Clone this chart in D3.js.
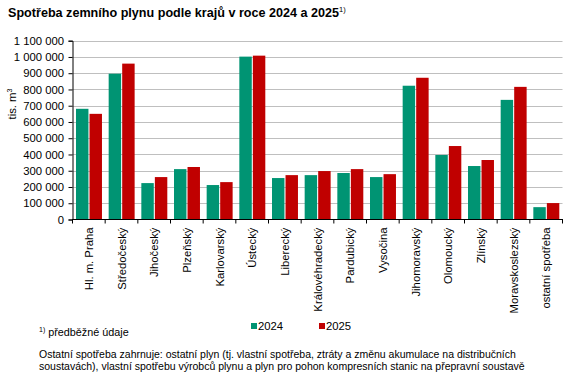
<!DOCTYPE html>
<html><head><meta charset="utf-8">
<script src="https://cdn.jsdelivr.net/npm/d3@7"></script>
<style>body{margin:0;background:#fff}svg{font-family:Arial,"Liberation Sans",sans-serif}</style>
</head><body><svg id="c" width="571" height="379"></svg>
<script>
const categories = ["Hl. m. Praha","Středočeský","Jihočeský","Plzeňský","Karlovarský","Ústecký","Liberecký","Královéhradecký","Pardubický","Vysočina","Jihomoravský","Olomoucký","Zlínský","Moravskoslezský","ostatní spotřeba"];
const values2024 = [681000,897000,224000,310000,212000,1002000,255000,273000,286000,261000,823000,397000,329000,736000,76000];
const values2025 = [650000,959000,261000,323000,230000,1008000,273000,298000,310000,279000,872000,452000,366000,816000,101000];
const seriesNames = ["2024","2025"];
const colors = ["#009473","#c00000"];
const yTicks = [0,100000,200000,300000,400000,500000,600000,700000,800000,900000,1000000,1100000];

const svg = d3.select("#c");
const x0 = 72.5, x1 = 562.5, yTop = 40.7, yBot = 219.5;
const x = d3.scaleBand().domain(categories).range([x0,x1]).paddingInner(0).paddingOuter(0);
const xs = d3.scaleBand().domain(seriesNames).range([3.5, x.bandwidth()-3.2]).paddingInner(0.08);
const y = d3.scaleLinear().domain([0,1100000]).range([yBot,yTop]);
const fmt = v => d3.format(",")(v).replace(/,/g," ");

// title
const t = svg.append("text").attr("x",8).attr("y",17).attr("font-size",12.6).attr("font-weight","bold").attr("fill","#000")
  .text("Spotřeba zemního plynu podle krajů v roce 2024 a 2025");
t.append("tspan").attr("font-size",7.5).attr("font-weight","normal").attr("dy",-5).text("1)");

// gridlines
svg.append("g").selectAll("line").data(yTicks.filter(d=>d>0)).join("line")
  .attr("x1",x0).attr("x2",x1).attr("y1",d=>Math.round(y(d))+0.5).attr("y2",d=>Math.round(y(d))+0.5)
  .attr("stroke","#bfbfbf").attr("stroke-width",1);

// bars
const data = categories.map((c,i)=>({c, v:[values2024[i],values2025[i]]}));
const g = svg.append("g");
data.forEach(d=>{
  seriesNames.forEach((s,j)=>{
    g.append("rect").attr("x",x(d.c)+xs(s)).attr("width",xs.bandwidth())
     .attr("y",y(d.v[j])).attr("height",yBot-y(d.v[j])).attr("fill",colors[j]);
  });
});

// y axis
const ya = svg.append("g").attr("transform",`translate(${x0},0)`)
  .call(d3.axisLeft(y).tickValues(yTicks).tickFormat(fmt).tickSize(4).tickPadding(4.5));
ya.select(".domain").attr("stroke","#000");
ya.selectAll(".tick line").attr("stroke","#000");
ya.selectAll("text").attr("font-size",11.3).attr("fill","#000").attr("font-family","Arial, 'Liberation Sans', sans-serif");

// x axis
const xa = svg.append("g").attr("transform",`translate(0,${yBot})`);
xa.append("line").attr("x1",x0-0.5).attr("x2",x1+0.5).attr("y1",0).attr("y2",0).attr("stroke","#000");
const bounds = categories.map(c=>x(c)).concat([x1]);
xa.selectAll("line.tk").data(bounds).join("line").attr("class","tk")
  .attr("x1",d=>d).attr("x2",d=>d).attr("y1",0).attr("y2",4).attr("stroke","#000");
xa.selectAll("text").data(categories).join("text")
  .attr("transform",d=>`translate(${x(d)+x.bandwidth()/2+4},8) rotate(-90)`)
  .attr("text-anchor","end").attr("font-size",11.3).attr("fill","#000").text(d=>d);

// y label
const yl = svg.append("text").attr("transform","translate(16,104) rotate(-90)").attr("text-anchor","middle")
  .attr("font-size",11.3).attr("fill","#000").text("tis. m");
yl.append("tspan").attr("font-size",7).attr("dy",-4).text("3");

// legend
const leg = svg.append("g");
const legX = [251,319];
seriesNames.forEach((s,j)=>{
  leg.append("rect").attr("x",legX[j]).attr("y",323).attr("width",6).attr("height",6).attr("fill",colors[j]);
  leg.append("text").attr("x",legX[j]+7).attr("y",329.5).attr("font-size",11.3).attr("fill","#000").text(s);
});

// footnotes
const fn = svg.append("text").attr("x",39).attr("y",336).attr("font-size",10.8).attr("fill","#000");
fn.append("tspan").attr("font-size",7).attr("dy",-4).text("1)");
fn.append("tspan").attr("dy",4).text(" předběžné údaje");
svg.append("text").attr("x",39).attr("y",358).attr("font-size",10.5).attr("fill","#000")
  .text("Ostatní spotřeba zahrnuje: ostatní plyn (tj. vlastní spotřeba, ztráty a změnu akumulace na distribučních");
svg.append("text").attr("x",39).attr("y",370).attr("font-size",10.5).attr("fill","#000")
  .text("soustavách), vlastní spotřebu výrobců plynu a plyn pro pohon kompresních stanic na přepravní soustavě");
</script></body></html>
